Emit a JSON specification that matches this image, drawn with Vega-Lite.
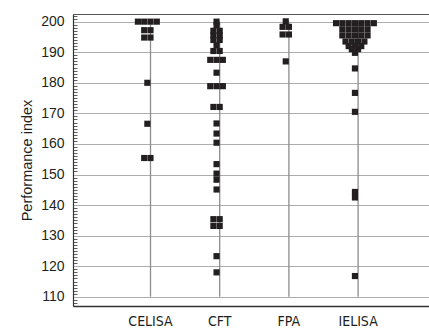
{
  "$schema": "https://vega.github.io/schema/vega-lite/v6.json",
  "autosize": {"type": "none"},
  "padding": {"left": 73, "top": 14, "right": 0, "bottom": 28},
  "width": 356,
  "height": 292,
  "background": "white",
  "config": {
    "view": {"stroke": null},
    "font": "Liberation Sans, Arial, sans-serif",
    "axis": {"labelFont": "Liberation Sans, Arial, sans-serif", "titleFont": "Liberation Sans, Arial, sans-serif", "labelColor": "#231f20", "titleColor": "#231f20"}
  },
  "datasets": {
    "perf": [
      {"test": "CELISA", "value": 200}, {"test": "CELISA", "value": 200}, {"test": "CELISA", "value": 200}, {"test": "CELISA", "value": 200},
      {"test": "CELISA", "value": 197.2}, {"test": "CELISA", "value": 197.2},
      {"test": "CELISA", "value": 194.8}, {"test": "CELISA", "value": 194.8},
      {"test": "CELISA", "value": 180},
      {"test": "CELISA", "value": 166.6},
      {"test": "CELISA", "value": 155.4}, {"test": "CELISA", "value": 155.4},
      {"test": "CFT", "value": 200},
      {"test": "CFT", "value": 198.8},
      {"test": "CFT", "value": 197}, {"test": "CFT", "value": 197},
      {"test": "CFT", "value": 195.5}, {"test": "CFT", "value": 195.5},
      {"test": "CFT", "value": 194}, {"test": "CFT", "value": 194},
      {"test": "CFT", "value": 192.3},
      {"test": "CFT", "value": 190.4}, {"test": "CFT", "value": 190.4},
      {"test": "CFT", "value": 187.5}, {"test": "CFT", "value": 187.5}, {"test": "CFT", "value": 187.5},
      {"test": "CFT", "value": 183.3},
      {"test": "CFT", "value": 178.9}, {"test": "CFT", "value": 178.9}, {"test": "CFT", "value": 178.9},
      {"test": "CFT", "value": 172.1}, {"test": "CFT", "value": 172.1},
      {"test": "CFT", "value": 166.7},
      {"test": "CFT", "value": 163.4},
      {"test": "CFT", "value": 160.4},
      {"test": "CFT", "value": 153.4},
      {"test": "CFT", "value": 150.3},
      {"test": "CFT", "value": 148.3},
      {"test": "CFT", "value": 145.1},
      {"test": "CFT", "value": 135.4}, {"test": "CFT", "value": 135.4},
      {"test": "CFT", "value": 133.2}, {"test": "CFT", "value": 133.2},
      {"test": "CFT", "value": 123.3},
      {"test": "CFT", "value": 118},
      {"test": "FPA", "value": 200.1},
      {"test": "FPA", "value": 198.3}, {"test": "FPA", "value": 198.3},
      {"test": "FPA", "value": 195.8}, {"test": "FPA", "value": 195.8},
      {"test": "FPA", "value": 187},
      {"test": "IELISA", "value": 199.5}, {"test": "IELISA", "value": 199.5}, {"test": "IELISA", "value": 199.5}, {"test": "IELISA", "value": 199.5}, {"test": "IELISA", "value": 199.5}, {"test": "IELISA", "value": 199.5}, {"test": "IELISA", "value": 199.5},
      {"test": "IELISA", "value": 197.5}, {"test": "IELISA", "value": 197.5}, {"test": "IELISA", "value": 197.5}, {"test": "IELISA", "value": 197.5}, {"test": "IELISA", "value": 197.5},
      {"test": "IELISA", "value": 195.5}, {"test": "IELISA", "value": 195.5}, {"test": "IELISA", "value": 195.5}, {"test": "IELISA", "value": 195.5}, {"test": "IELISA", "value": 195.5},
      {"test": "IELISA", "value": 193.5}, {"test": "IELISA", "value": 193.5}, {"test": "IELISA", "value": 193.5}, {"test": "IELISA", "value": 193.5},
      {"test": "IELISA", "value": 192}, {"test": "IELISA", "value": 192}, {"test": "IELISA", "value": 192},
      {"test": "IELISA", "value": 191}, {"test": "IELISA", "value": 191},
      {"test": "IELISA", "value": 189.8},
      {"test": "IELISA", "value": 184.7},
      {"test": "IELISA", "value": 176.7},
      {"test": "IELISA", "value": 170.5},
      {"test": "IELISA", "value": 144.3},
      {"test": "IELISA", "value": 142.5},
      {"test": "IELISA", "value": 116.8}
    ],
    "tests": [
      {"test": "CELISA"}, {"test": "CFT"}, {"test": "FPA"}, {"test": "IELISA"}
    ]
  },
  "layer": [
    {
      "data": {"name": "tests"},
      "mark": {"type": "rule", "color": "#8c8c8c", "strokeWidth": 1.3},
      "encoding": {
        "x": {
          "field": "test", "type": "nominal",
          "scale": {"domain": ["CELISA", "CFT", "FPA", "IELISA"], "paddingInner": 0, "paddingOuter": 0.62, "range": [0, 362.6]},
          "axis": {"orient": "top", "title": null, "labels": false, "ticks": false, "domainColor": "#555555", "domainWidth": 1.2}
        },
        "y": {
          "datum": 110, "type": "quantitative",
          "scale": {"domain": [107, 202.5], "nice": false, "zero": false},
          "axis": {
            "orient": "left",
            "title": "Performance index",
            "titleFontSize": 14.5, "titleFontWeight": "normal", "titlePadding": 6,
            "values": [110, 120, 130, 140, 150, 160, 170, 180, 190, 200],
            "labelFontSize": 14, "labelPadding": 9,
            "ticks": false,
            "domainColor": "#333333", "domainWidth": 1.2,
            "grid": true, "gridColor": "#adadad", "gridWidth": 1.2
          }
        },
        "y2": {"datum": 200}
      }
    },
    {
      "data": {"name": "perf"},
      "transform": [
        {"window": [{"op": "count", "as": "one"}], "frame": [0, 0], "groupby": ["test", "value"]},
        {"stack": "one", "groupby": ["test", "value"], "offset": "center", "as": ["s0", "s1"]}
      ],
      "mark": {"type": "point", "shape": "square", "filled": true, "color": "#231f20", "opacity": 1, "size": 38, "xOffset": 3.15},
      "encoding": {
        "x": {
          "field": "test", "type": "nominal",
          "axis": {"orient": "bottom", "title": null, "labelAngle": 0, "ticks": false, "labelFont": "Liberation Sans Narrow, DejaVu Sans Condensed, sans-serif", "labelFontSize": 14, "labelPadding": 8, "domainColor": "#333333", "domainWidth": 1.5}
        },
        "xOffset": {"field": "s0", "type": "quantitative", "scale": {"domain": [-1.99, 8.99], "nice": false, "zero": false}},
        "y": {
          "field": "value", "type": "quantitative",
          "axis": {
            "orient": "left", "title": null, "labels": false, "grid": false, "domain": false,
            "values": [107,108,109,111,112,113,114,115,116,117,118,119,121,122,123,124,125,126,127,128,129,131,132,133,134,135,136,137,138,139,141,142,143,144,145,146,147,148,149,151,152,153,154,155,156,157,158,159,161,162,163,164,165,166,167,168,169,171,172,173,174,175,176,177,178,179,181,182,183,184,185,186,187,188,189,191,192,193,194,195,196,197,198,199,201,202],
            "tickSize": -4, "tickColor": "#333333", "tickWidth": 0.8
          }
        }
      }
    }
  ],
  "resolve": {"axis": {"x": "independent", "y": "independent"}}
}
